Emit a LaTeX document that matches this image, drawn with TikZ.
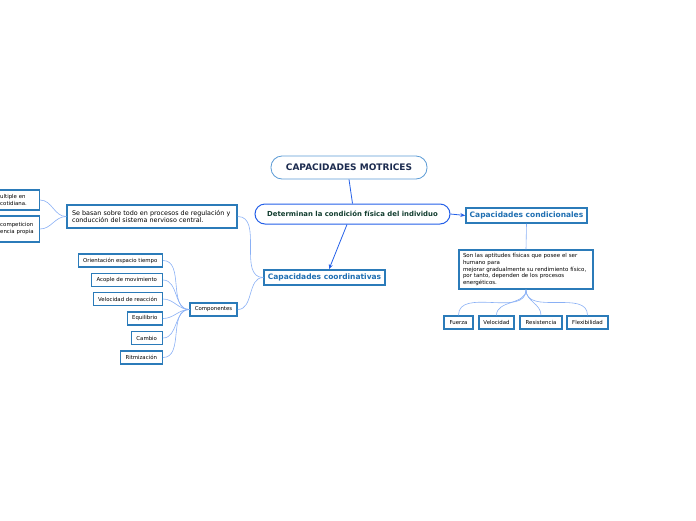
\documentclass[tikz,border=0pt]{standalone}
\usepackage{fontspec}
\setmainfont{DejaVu Sans}
\usetikzlibrary{positioning,arrows.meta}
\definecolor{boxblue}{HTML}{2B7BB9}
\definecolor{linkblue}{HTML}{8AB0F5}
\definecolor{arrowblue}{HTML}{2460E8}
\definecolor{rimblue}{HTML}{5B9BD5}
\definecolor{titlenavy}{HTML}{1C2B4F}
\definecolor{textgreen}{HTML}{123D2F}
\definecolor{labelblue}{HTML}{1F6FB2}

\tikzset{
  central/.style={draw=rimblue, line width=0.8pt, rounded corners=11pt, fill=white,
    minimum width=156pt, minimum height=23pt, text=titlenavy,
    font=\bfseries\fontsize{9}{10}\selectfont},
  mainidea/.style={draw=arrowblue, line width=1pt, rounded corners=10pt, fill=white,
    minimum width=195pt, minimum height=20pt, text=textgreen,
    font=\bfseries\fontsize{6.9}{8}\selectfont},
  branch/.style={draw=boxblue, line width=1.5pt, fill=white, inner sep=0pt,
    minimum width=121pt, minimum height=15pt, text=labelblue,
    font=\bfseries\fontsize{7.5}{8.5}\selectfont},
  leaf/.style={draw=boxblue, line width=1.5pt, fill=white, inner sep=0pt,
    minimum height=13pt, font=\fontsize{5.4}{6.4}\selectfont},
  note/.style={draw=boxblue, line width=1.5pt, fill=white, inner xsep=4pt,
    align=left, font=\fontsize{6.4}{7.8}\selectfont},
  link/.style={draw=linkblue, line width=0.6pt},
  arrowlink/.style={draw=arrowblue, line width=0.8pt, -{Stealth[length=5pt,width=4pt]}}
}

\begin{document}
\begin{tikzpicture}[x=1pt,y=-1pt]
  \useasboundingbox (0,0) rectangle (696,520);

  \node[central] (motrices) at (349,167.5) {CAPACIDADES MOTRICES};
  \node[mainidea] (determinan) at (352.5,214) {Determinan la condición física del individuo};
  \node[branch] (condicionales) at (526.5,215.5) {Capacidades condicionales};
  \node[branch] (coordinativas) at (324.5,277.5) {Capacidades coordinativas};

  \node[note, inner xsep=5pt, minimum width=170pt, minimum height=23pt, text width=160pt] (basan) at (152,216.5)
    {Se basan sobre todo en procesos de regulación y\\conducción del sistema nervioso central.};
  \node[note, font=\fontsize{5.4}{7}\selectfont, text width=35pt, minimum height=20pt, anchor=east] (vida) at (40,200)
    {ultiple en\\cotidiana.};
  \node[note, font=\fontsize{5.4}{7}\selectfont, text width=35pt, minimum height=26pt, anchor=east] (competencia) at (40,229)
    {competicion\\encia propia};

  \node[leaf, minimum width=47pt] (componentes) at (213.5,309.5) {Componentes};
  \node[leaf, minimum width=84pt, anchor=east] (orientacion) at (163,260.5) {Orientación espacio tiempo};
  \node[leaf, minimum width=71pt, anchor=east] (acople) at (163,280) {Acople de movimiento};
  \node[leaf, minimum width=69pt, anchor=east] (reaccion) at (163,299) {Velocidad de reacción};
  \node[leaf, minimum width=35pt, anchor=east] (equilibrio) at (163,318.5) {Equilibrio};
  \node[leaf, minimum width=31pt, anchor=east] (cambio) at (163,338) {Cambio};
  \node[leaf, minimum width=42pt, anchor=east] (ritmo) at (163,357.5) {Ritmización};

  \node[note, font=\fontsize{5.5}{6.6}\selectfont, minimum width=134pt, minimum height=39pt, text width=126pt] (aptitudes) at (526,269.5)
    {Son las aptitudes físicas que posee el ser\\humano para\\mejorar gradualmente su rendimiento físico,\\por tanto, dependen de los procesos\\energéticos.};
  \node[leaf, minimum width=29pt] (fuerza) at (458.5,322.5) {Fuerza};
  \node[leaf, minimum width=35pt] (velocidad) at (496.5,322.5) {Velocidad};
  \node[leaf, minimum width=42pt] (resistencia) at (541,322.5) {Resistencia};
  \node[leaf, minimum width=41pt] (flexibilidad) at (587.5,322.5) {Flexibilidad};

  \draw[arrowblue, line width=0.8pt] (motrices.south) -- (determinan.north);
  \draw[arrowlink] ([xshift=-5.5pt]determinan.south) -- ([xshift=4.5pt]coordinativas.north);
  \draw[arrowlink] (determinan.east) -- (condicionales.west);

  \draw[link] (basan.east) to[out=0,in=180] (coordinativas.west);
  \draw[link] (componentes.east) to[out=0,in=180] (coordinativas.west);
  \draw[link] (vida.east) to[out=0,in=180] (basan.west);
  \draw[link] (competencia.east) to[out=0,in=180] (basan.west);

  \draw[link] (orientacion.east) to[out=0,in=180] (componentes.west);
  \draw[link] (acople.east) to[out=0,in=180] (componentes.west);
  \draw[link] (reaccion.east) to[out=0,in=180] (componentes.west);
  \draw[link] (equilibrio.east) to[out=0,in=180] (componentes.west);
  \draw[link] (cambio.east) to[out=0,in=180] (componentes.west);
  \draw[link] (ritmo.east) to[out=0,in=180] (componentes.west);

  \draw[link] (condicionales.south) -- (aptitudes.north);
  \draw[link] (aptitudes.south) to[out=-90,in=90] (fuerza.north);
  \draw[link] (aptitudes.south) to[out=-90,in=90] (velocidad.north);
  \draw[link] (aptitudes.south) to[out=-90,in=90] (resistencia.north);
  \draw[link] (aptitudes.south) to[out=-90,in=90] (flexibilidad.north);
\end{tikzpicture}
\end{document}
